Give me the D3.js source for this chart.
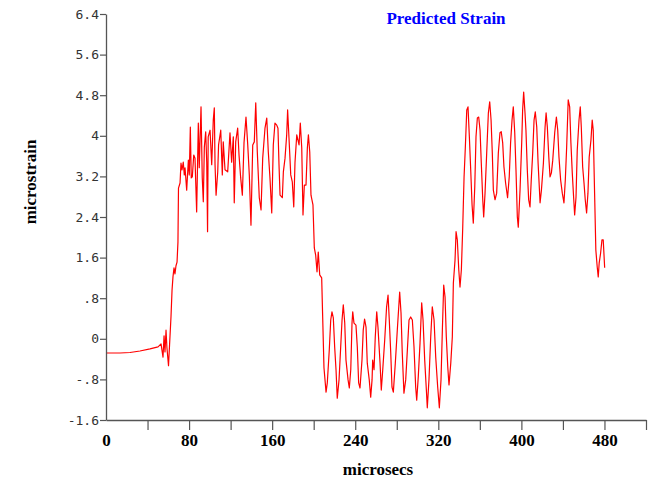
<!DOCTYPE html>
<html>
<head>
<meta charset="utf-8">
<script src="https://cdn.jsdelivr.net/npm/d3@7"></script>
<style>
  html, body { margin: 0; padding: 0; background: #fff; }
  svg { display: block; }
  .serif { font-family: "Liberation Serif", "Times New Roman", serif; font-weight: bold; }
</style>
</head>
<body>
<div id="chart"></div>
<script>
// [microsecs, microstrain], segment by segment
const baseline = [
  [0, -0.28], [13.5, -0.28], [23.1, -0.27], [32.7, -0.24], [42.4, -0.20], [50.1, -0.16],
  [53.0, -0.10], [54.9, -0.36], [55.9, 0.06], [56.8, -0.26], [57.8, 0.17], [58.7, -0.18],
  [60.2, -0.53], [61.2, -0.12], [62.6, 0.44], [63.6, 0.96], [64.5, 1.22], [65.5, 1.40],
  [66.4, 1.28], [67.4, 1.44], [68.4, 1.51], [69.3, 1.91]
];
const firstPlateau = [
  [69.8, 2.97], [71.3, 3.07], [72.2, 3.46], [73.2, 3.33], [74.4, 3.48], [75.4, 3.23],
  [76.1, 3.37], [77.7, 2.93], [79.3, 3.52], [80.2, 3.23], [81.2, 4.17], [82.1, 3.17],
  [83.1, 3.19], [84.5, 3.62], [85.7, 3.56], [87.3, 2.50], [88.9, 4.25], [89.8, 3.37],
  [91.5, 4.57], [92.7, 3.17], [93.7, 2.70], [94.7, 3.78], [96.0, 4.08], [97.0, 3.48],
  [97.8, 2.11], [98.4, 3.98], [100.2, 4.11], [101.8, 3.43], [103.3, 4.31], [104.3, 4.55],
  [105.0, 3.43], [106.0, 2.83], [107.6, 3.29], [108.4, 3.82], [110.5, 4.11], [112.0, 3.23],
  [112.9, 3.88], [114.6, 3.33], [117.2, 3.29], [119.4, 4.06], [121.0, 3.48], [122.6, 3.98],
  [123.5, 2.68], [124.9, 3.88], [126.8, 4.15], [128.1, 3.62], [129.7, 3.17], [131.3, 2.83],
  [132.9, 3.86], [134.8, 4.37], [136.5, 3.82], [138.0, 3.23], [139.6, 2.24], [141.3, 3.82],
  [142.8, 3.88], [144.2, 4.65], [145.7, 3.68], [147.6, 2.78], [149.3, 2.54], [150.9, 3.56],
  [153.1, 4.15], [154.8, 4.35], [156.3, 3.68], [157.9, 3.17], [159.6, 2.48], [161.1, 3.82],
  [162.7, 4.25], [164.4, 4.21], [165.6, 4.15], [166.6, 3.43], [167.6, 2.83], [169.8, 2.78],
  [170.8, 3.29], [172.4, 3.56], [174.0, 4.02], [174.9, 4.51], [176.2, 3.96], [177.9, 3.23],
  [179.4, 3.09], [180.8, 2.60], [182.0, 3.48], [183.7, 4.02], [185.9, 3.82], [187.1, 4.25],
  [188.5, 3.76], [189.7, 2.44], [191.0, 3.03], [192.6, 3.03], [193.9, 3.76], [194.9, 4.02],
  [196.2, 3.68], [197.4, 2.83], [199.3, 2.64], [200.6, 1.79], [201.9, 1.65], [203.2, 1.32],
  [204.4, 1.71], [205.8, 1.26], [207.7, 1.20]
];
const trough = [
  [208.6, 0.47], [209.9, -0.57], [211.9, -1.05], [213.1, -0.87], [215.0, -0.22], [216.4, 0.37],
  [217.6, 0.53], [218.9, 0.41], [220.2, -0.16], [221.5, -0.61], [222.7, -1.17], [224.4, -0.81],
  [226.0, -0.16], [227.3, 0.37], [228.5, 0.67], [229.9, 0.31], [231.1, -0.42], [233.1, -0.81],
  [234.3, -0.97], [235.7, -0.61], [236.9, 0.31], [237.6, 0.53], [238.8, 0.31], [240.7, 0.27],
  [242.0, -0.16], [243.3, -0.87], [244.6, -0.97], [246.5, -0.42], [247.7, 0.17], [249.0, 0.39],
  [250.4, 0.23], [251.6, -0.48], [253.5, -0.81], [254.9, -1.15], [256.2, -0.81], [256.8, -0.42],
  [258.1, -0.61], [259.3, 0.04], [260.7, 0.53], [261.9, 0.23], [263.9, -0.48], [265.1, -1.01],
  [266.5, -0.61], [268.4, -0.02], [270.2, 0.63], [271.6, 0.86], [272.8, 0.37], [274.2, -0.28],
  [275.4, -0.95], [276.7, -1.05], [278.6, -0.48], [280.5, 0.17], [282.8, 0.92], [284.1, 0.51],
  [285.3, -0.28], [286.9, -1.07], [288.6, -0.81], [290.2, -0.22], [291.8, 0.37], [293.4, 0.43],
  [295.0, 0.37], [296.6, -0.16], [298.2, -0.95], [299.2, -1.21], [300.7, -0.75], [302.4, -0.08],
  [304.0, 0.71], [305.3, 0.37], [306.9, -0.42], [308.5, -1.01], [309.4, -1.36], [311.0, -0.81],
  [312.7, 0.04], [314.2, 0.63], [315.9, 0.37], [317.5, -0.36], [319.4, -0.95], [321.0, -1.36],
  [322.6, -0.81], [323.9, 0.17], [325.2, 1.06], [326.5, 0.82], [327.7, 0.04], [329.1, -0.55],
  [330.3, -0.91], [332.0, -0.48], [333.5, 0.04]
];
const secondPlateau = [
  [334.5, 1.10], [336.1, 1.55], [337.1, 2.11], [338.3, 1.95], [339.7, 1.36], [340.9, 1.02],
  [342.2, 1.36], [343.5, 2.18], [344.8, 3.19], [346.0, 3.76], [347.4, 4.51], [348.6, 4.57],
  [349.9, 3.98], [351.2, 3.33], [352.5, 2.64], [353.7, 2.28], [355.1, 2.99], [356.3, 3.98],
  [357.6, 4.35], [358.9, 4.37], [360.2, 4.11], [361.4, 3.46], [362.8, 2.74], [363.7, 2.40],
  [365.0, 2.87], [366.6, 3.66], [368.2, 4.45], [369.5, 4.67], [370.8, 4.31], [372.0, 3.66],
  [373.0, 2.93], [374.6, 2.74], [376.2, 2.87], [377.8, 3.66], [379.4, 4.06], [380.6, 4.08],
  [382.0, 3.86], [383.2, 3.39], [384.8, 3.07], [386.7, 2.78], [388.3, 3.19], [389.6, 3.86],
  [391.0, 4.31], [392.2, 4.57], [393.6, 4.06], [394.8, 3.33], [396.1, 2.40], [397.0, 2.20],
  [398.7, 2.93], [400.3, 3.86], [401.2, 4.51], [402.2, 4.86], [403.5, 4.45], [404.4, 4.11],
  [405.7, 3.33], [407.0, 2.74], [408.3, 2.60], [409.5, 3.13], [410.9, 3.66], [412.2, 4.31],
  [413.4, 4.47], [414.8, 4.17], [416.1, 3.46], [418.0, 2.68], [419.3, 2.93], [421.2, 3.46],
  [422.8, 4.17], [423.8, 4.45], [425.0, 4.17], [426.4, 3.58], [427.6, 3.19], [428.9, 3.27],
  [430.2, 3.52], [432.1, 4.06], [433.7, 4.37], [435.0, 4.11], [436.2, 3.58], [437.8, 3.13],
  [439.4, 2.87], [441.0, 2.68], [442.3, 3.13], [443.6, 3.78], [445.1, 4.71], [446.5, 4.57],
  [447.7, 3.86], [449.0, 3.27], [450.3, 2.79], [451.3, 2.44], [452.6, 2.79], [453.8, 3.72],
  [455.5, 4.31], [456.7, 4.57], [457.7, 4.17], [459.0, 3.39], [460.3, 3.07], [461.5, 2.74],
  [462.8, 2.48], [464.1, 2.87], [465.3, 3.58], [467.0, 3.92], [468.2, 4.31], [469.2, 4.11]
];
const tail = [
  [470.5, 2.87], [471.7, 1.75], [473.0, 1.42], [474.0, 1.22], [474.9, 1.49], [476.3, 1.69],
  [477.6, 1.95], [478.8, 1.95], [480.2, 1.40]
];

const yTicks = [-1.6, -0.8, 0, 0.8, 1.6, 2.4, 3.2, 4, 4.8, 5.6, 6.4];
const yTickLabels = ["-1.6", "-.8", "0", ".8", "1.6", "2.4", "3.2", "4", "4.8", "5.6", "6.4"];
const xTicks = [0, 40, 80, 120, 160, 200, 240, 280, 320, 360, 400, 440, 480, 520];
const xLabelled = [0, 80, 160, 240, 320, 400, 480];

const W = 658, H = 482;
const plot = { left: 106, top: 14, right: 646, bottom: 420 };

const svg = d3.select("#chart").append("svg")
  .attr("width", W)
  .attr("height", H);

const x = d3.scaleLinear().domain([0, 520]).range([plot.left, plot.right]);
const y = d3.scaleLinear().domain([-1.6, 6.4]).range([plot.bottom, plot.top]);

// signal
const samples = [...baseline, ...firstPlateau, ...trough, ...secondPlateau, ...tail];
const line = d3.line().x(d => x(d[0])).y(d => y(d[1]));

svg.append("path")
  .datum(samples)
  .attr("d", line)
  .attr("fill", "none")
  .attr("stroke", "#ff0000")
  .attr("stroke-width", 1.2)
  .attr("stroke-linejoin", "round");

// y axis
const yAxis = svg.append("g")
  .attr("transform", `translate(${plot.left},0)`)
  .call(d3.axisLeft(y)
    .tickValues(yTicks)
    .tickFormat((d, i) => yTickLabels[i])
    .tickSize(6)
    .tickSizeOuter(0)
    .tickPadding(1));
yAxis.select(".domain").attr("stroke", "#555").attr("stroke-width", 1.3);
yAxis.selectAll(".tick line").attr("stroke", "#555").attr("stroke-width", 1.2);
yAxis.selectAll(".tick text")
  .attr("fill", "#333")
  .style("font-family", "'DejaVu Sans Mono', monospace")
  .style("font-size", "13px");

// x axis
const xAxis = svg.append("g")
  .attr("transform", `translate(0,${plot.bottom})`)
  .call(d3.axisBottom(x)
    .tickValues(xTicks)
    .tickFormat(d => xLabelled.includes(d) ? d : "")
    .tickSize(10)
    .tickSizeOuter(0)
    .tickPadding(4));
xAxis.select(".domain").attr("stroke", "#555").attr("stroke-width", 1.3);
xAxis.selectAll(".tick line")
  .attr("stroke", "#555")
  .attr("stroke-width", 1.2)
  .filter(d => d === 0).remove();
xAxis.selectAll(".tick text")
  .attr("class", "serif")
  .attr("fill", "#000")
  .style("font-size", "17px");

// titles
svg.append("text")
  .attr("class", "serif")
  .attr("x", 446).attr("y", 24)
  .attr("text-anchor", "middle")
  .attr("fill", "#0000ff")
  .style("font-size", "17px")
  .text("Predicted Strain");

svg.append("text")
  .attr("class", "serif")
  .attr("x", 378).attr("y", 475)
  .attr("text-anchor", "middle")
  .attr("fill", "#000")
  .style("font-size", "17px")
  .text("microsecs");

svg.append("text")
  .attr("class", "serif")
  .attr("transform", "translate(36,182) rotate(-90)")
  .attr("text-anchor", "middle")
  .attr("fill", "#000")
  .style("font-size", "17px")
  .text("microstrain");
</script>
</body>
</html>
